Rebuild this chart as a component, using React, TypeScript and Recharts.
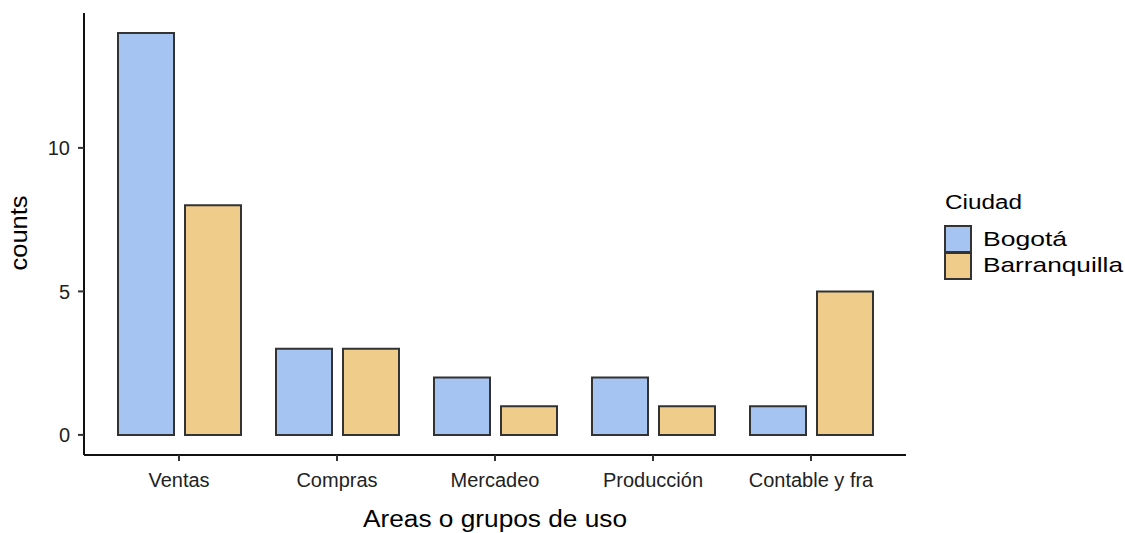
import React from "react";
import { BarChart, Bar, XAxis, YAxis } from "recharts";

const categories = ["Ventas", "Compras", "Mercadeo", "Producción", "Contable y fra"];
const bogota = [14, 3, 2, 2, 1];
const barranquilla = [8, 3, 1, 1, 5];
const yTicks = [0, 5, 10];
const seriesNames = ["Bogotá", "Barranquilla"];
const seriesColors = ["#A6C4F1", "#EFCC8A"];

const data = categories.map((c, i) => ({
  area: c,
  Bogota: bogota[i],
  Barranquilla: barranquilla[i],
}));

const FONT = "'Liberation Sans', Arial, Helvetica, sans-serif";

export default function App() {
  return (
    <div style={{ position: "absolute", left: 0, top: 0, width: 1125, height: 533, background: "#fff" }}>
      <BarChart
        width={1125}
        height={533}
        data={data}
        margin={{ top: 13, right: 219, bottom: 0, left: 0 }}
        barCategoryGap={18}
        barGap={11}
      >
        <XAxis
          dataKey="area"
          height={78}
          padding={{ left: 16, right: 16 }}
          tickLine={{ stroke: "#333", strokeWidth: 2 }}
          tickSize={6}
          tickMargin={12}
          axisLine={{ stroke: "#111", strokeWidth: 2 }}
          tick={{ fill: "#222", fontSize: 20, fontFamily: FONT }}
          interval={0}
        />
        <YAxis
          type="number"
          width={84}
          domain={[-0.7, 14.7]}
          ticks={yTicks}
          tickLine={{ stroke: "#333", strokeWidth: 2 }}
          tickSize={6}
          tickMargin={8}
          axisLine={{ stroke: "#111", strokeWidth: 2 }}
          tick={{ fill: "#222", fontSize: 20, fontFamily: FONT }}
        />
        <Bar dataKey="Bogota" fill={seriesColors[0]} stroke="#333" strokeWidth={2} isAnimationActive={false} />
        <Bar dataKey="Barranquilla" fill={seriesColors[1]} stroke="#333" strokeWidth={2} isAnimationActive={false} />
      </BarChart>
      <svg
        width={1125}
        height={533}
        style={{ position: "absolute", left: 0, top: 0, pointerEvents: "none" }}
        fontFamily={FONT}
      >
        <text x={363} y={527} fontSize={23} fill="#000" textLength={264} lengthAdjust="spacingAndGlyphs">
          Areas o grupos de uso
        </text>
        <text
          x={0}
          y={0}
          fontSize={23}
          fill="#000"
          textAnchor="middle"
          textLength={75}
          lengthAdjust="spacingAndGlyphs"
          transform="translate(27,233) rotate(-90)"
        >
          counts
        </text>
        <text x={945} y={209} fontSize={20} fill="#000" textLength={77} lengthAdjust="spacingAndGlyphs">
          Ciudad
        </text>
        {seriesNames.map((name, i) => (
          <g key={name}>
            <rect x={945} y={226 + i * 27} width={26} height={26} fill={seriesColors[i]} stroke="#333" strokeWidth={2} />
            <text
              x={983}
              y={246 + i * 26}
              fontSize={21}
              fill="#000"
              textLength={i === 0 ? 84 : 140}
              lengthAdjust="spacingAndGlyphs"
            >
              {name}
            </text>
          </g>
        ))}
      </svg>
    </div>
  );
}
